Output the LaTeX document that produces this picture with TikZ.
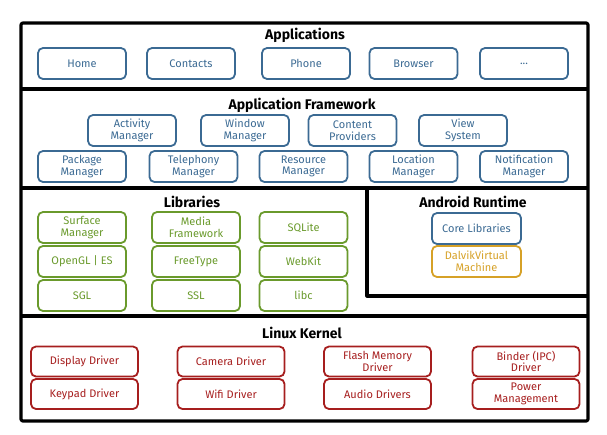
\documentclass[tikz,border=0pt]{standalone}
\usepackage{fontspec}
\setmainfont{Fira Sans}
\definecolor{cblue}{HTML}{3B6A93}
\definecolor{cgreen}{HTML}{6A9A2C}
\definecolor{cgold}{HTML}{D6A127}
\definecolor{cred}{HTML}{A61E1E}
\begin{document}
\begin{tikzpicture}[x=1pt,y=-1pt,
  frame/.style={line width=3.2pt,line join=round},
  title/.style={font=\fontsize{14}{15}\selectfont\bfseries,inner sep=0pt},
  box/.style={draw,rounded corners=5pt,line width=1.8pt,minimum width=88pt,minimum height=31pt,
    align=center,inner sep=0pt,font=\fontsize{11}{11.5}\selectfont},
  wbox/.style={box,minimum width=107pt,minimum height=30pt},
  bb/.style={box,draw=cblue,text=cblue},
  gb/.style={box,draw=cgreen,text=cgreen},
  ob/.style={box,draw=cgold,text=cgold},
  rb/.style={wbox,draw=cred,text=cred}]
\useasboundingbox (0,0) rectangle (607,434);
% frames
\draw[frame,rounded corners=2pt] (21,23) rectangle (588,421);
\draw[frame] (21,89) -- (588,89);
\draw[frame] (21,188) -- (588,188);
\draw[frame] (21,316) -- (588,316);
\draw[frame] (367,188) -- (367,296) -- (588,296);
% Applications
\node[title] (tapp) at (305,35) {Applications};
\node[bb] (home) at (82,63.5) {Home};
\node[bb] (contacts) at (191,63.5) {Contacts};
\node[bb] (phone) at (306,63.5) {Phone};
\node[bb] (browser) at (413.5,63.5) {Browser};
\node[bb] (more) at (524,63.5) {...};
% Framework
\node[title] (tfw) at (302,105) {Application Framework};
\node[bb] (activity) at (132,130.5) {Activity\\Manager};
\node[bb] (window) at (245,130.5) {Window\\Manager};
\node[bb] (content) at (352.5,130.5) {Content\\Providers};
\node[bb] (view) at (463,130.5) {View\\System};
\node[bb] (package) at (82,166.5) {Package\\Manager};
\node[bb] (telephony) at (193.5,166.5) {Telephony\\Manager};
\node[bb] (resource) at (303.5,166.5) {Resource\\Manager};
\node[bb] (location) at (413.5,166.5) {Location\\Manager};
\node[bb] (notification) at (524,166.5) {Notification\\Manager};
% Libraries
\node[title] (tlib) at (192,202) {Libraries};
\node[gb] (surface) at (82,227.5) {Surface\\Manager};
\node[gb] (media) at (196,227.5) {Media\\Framework};
\node[gb] (sqlite) at (303.5,227.5) {SQLite};
\node[gb] (opengl) at (82,261.5) {OpenGL | ES};
\node[gb] (freetype) at (196,261.5) {FreeType};
\node[gb] (webkit) at (303.5,261.5) {WebKit};
\node[gb] (sgl) at (82,295.5) {SGL};
\node[gb] (ssl) at (196,295.5) {SSL};
\node[gb] (libc) at (303.5,295.5) {libc};
% Android Runtime
\node[title] (trt) at (473,202) {Android Runtime};
\node[bb,minimum width=89pt] (core) at (476.5,228.5) {Core Libraries};
\node[ob,minimum width=89pt] (dalvik) at (476.5,261.5) {DalvikVirtual\\Machine};
% Linux Kernel
\node[title] (tlk) at (302,333) {Linux Kernel};
\node[rb] (display) at (84.5,361.5) {Display Driver};
\node[rb] (keypad) at (84.5,394) {Keypad Driver};
\node[rb] (camera) at (231,361.5) {Camera Driver};
\node[rb] (wifi) at (231,394) {Wifi Driver};
\node[rb] (flash) at (377.5,361.5) {Flash Memory\\Driver};
\node[rb] (audio) at (377.5,394) {Audio Drivers};
\node[rb] (binder) at (526,361.5) {Binder (IPC)\\Driver};
\node[rb] (power) at (526,394) {Power\\Management};
\end{tikzpicture}
\end{document}
